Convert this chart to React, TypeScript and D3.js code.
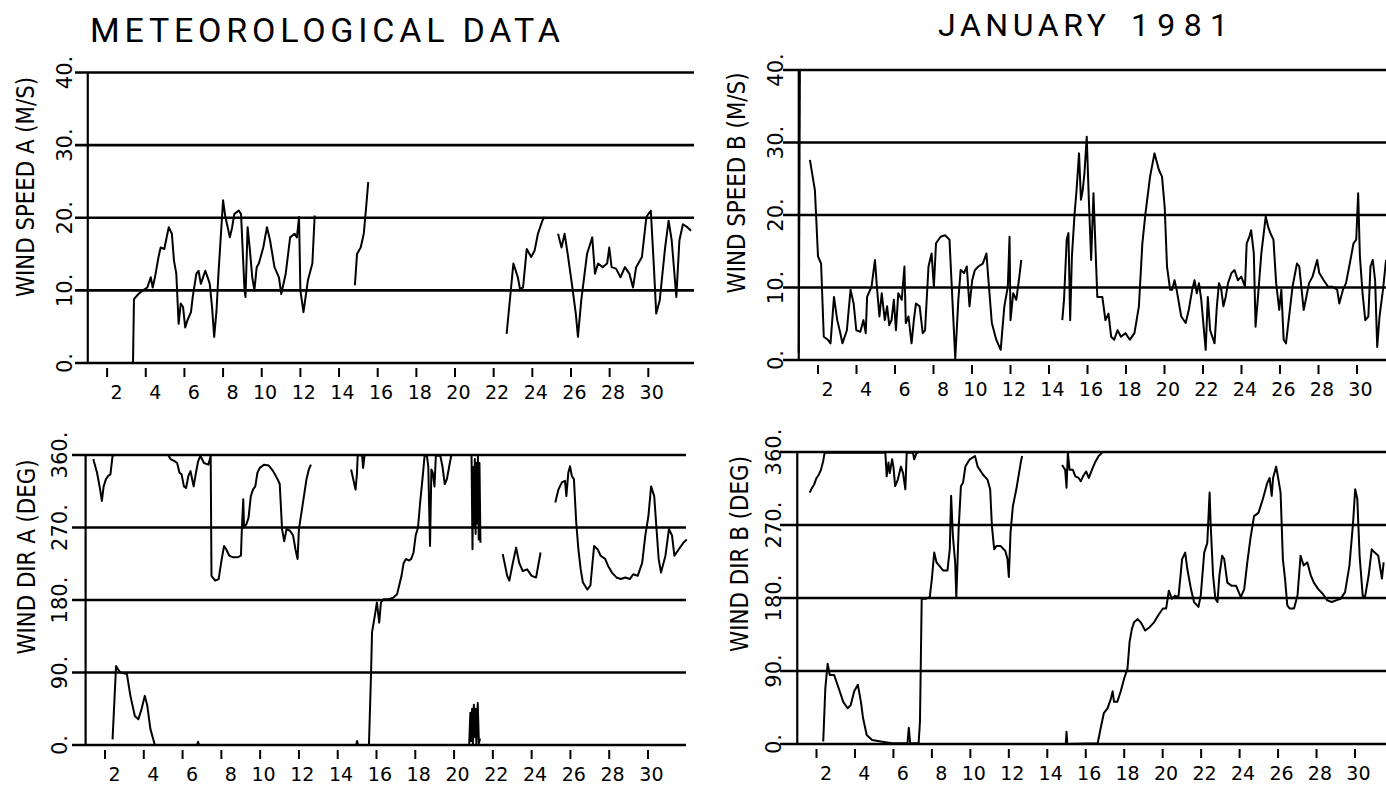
import React from 'react';
import * as d3 from 'd3';

type Pt = [number, number];

// tick days along the bottom of every panel
const dayTicks = [2, 4, 6, 8, 10, 12, 14, 16, 18, 20, 22, 24, 26, 28, 30];
const speedTicks = [0, 10, 20, 30, 40];
const dirTicks = [0, 90, 180, 270, 360];

// wind speed A (m/s), [day, value], one array per drawn stretch
const speedA: Pt[][] = [
  [[1.03, 0], [3.34, 0], [3.39, 8.8], [3.62, 9.5], [3.85, 10.0], [4.08, 10.4], [4.26, 11.8], [4.36, 10.4], [4.49, 12.0], [4.66, 14.6], [4.77, 15.9], [4.96, 15.7], [5.05, 16.9], [5.19, 18.7], [5.35, 17.8], [5.46, 14.1], [5.58, 12.3], [5.70, 5.4], [5.81, 8.2], [5.93, 7.7], [6.04, 4.9], [6.16, 5.9], [6.34, 7.0], [6.43, 9.1], [6.62, 12.3], [6.73, 12.7], [6.85, 10.9], [7.08, 12.7], [7.20, 11.8], [7.31, 10.9], [7.43, 7.7], [7.54, 3.6], [7.66, 7.2], [7.77, 12.7], [8.00, 22.4], [8.12, 20.1], [8.24, 18.7], [8.35, 17.3], [8.47, 18.7], [8.58, 20.5], [8.81, 21.0], [8.93, 20.5], [9.11, 10.0], [9.16, 9.1], [9.27, 18.7], [9.39, 15.5], [9.51, 11.8], [9.62, 10.0], [9.74, 13.2], [9.85, 13.7], [10.08, 15.9], [10.27, 18.7], [10.43, 16.9], [10.66, 13.2], [10.89, 11.8], [11.01, 9.5], [11.24, 12.3], [11.47, 17.3], [11.70, 17.8], [11.82, 17.3], [11.93, 20.1], [12.00, 10.0], [12.16, 7.0], [12.39, 11.4], [12.62, 13.7], [12.74, 20.3]],
  [[14.82, 10.7], [14.93, 15.0], [15.12, 15.9], [15.28, 17.8], [15.40, 21.4], [15.51, 24.9]],
  [[22.67, 4.0], [23.02, 13.7], [23.25, 11.8], [23.36, 10.2], [23.52, 10.4], [23.71, 15.7], [23.94, 14.6], [24.12, 15.5], [24.29, 17.8], [24.52, 19.6], [24.63, 20.1]],
  [[25.33, 17.8], [25.51, 15.9], [25.67, 17.8], [25.83, 15.0], [26.02, 11.4], [26.25, 6.8], [26.36, 3.6], [26.53, 8.6], [26.83, 15.0], [27.10, 17.3], [27.24, 12.3], [27.40, 13.7], [27.64, 13.2], [27.87, 13.7], [27.98, 15.9], [28.10, 13.2], [28.33, 13.0], [28.56, 11.8], [28.79, 13.2], [29.02, 12.3], [29.21, 10.4], [29.37, 13.2], [29.67, 14.6], [29.90, 20.1], [30.13, 21.0], [30.29, 13.2], [30.41, 6.8], [30.59, 8.6], [30.87, 15.9], [31.05, 19.6], [31.21, 16.9], [31.45, 9.1], [31.61, 16.9], [31.79, 19.1], [32.02, 18.7], [32.21, 18.2]],
];

// wind speed B (m/s)
const speedB: Pt[][] = [
  [[1.0, 1.0], [1.06, 40]],
  [[1.58, 27.6], [1.84, 23.4], [2.00, 14.3], [2.16, 13.3], [2.30, 3.2], [2.51, 2.8], [2.65, 2.3], [2.83, 8.7], [3.00, 5.5], [3.16, 3.7], [3.27, 2.3], [3.50, 4.1], [3.69, 9.7], [3.85, 7.8], [3.99, 4.1], [4.20, 3.9], [4.36, 5.5], [4.48, 3.7], [4.55, 8.7], [4.78, 10.1], [4.96, 13.8], [5.06, 10.1], [5.19, 6.0], [5.31, 9.2], [5.47, 5.5], [5.59, 7.4], [5.70, 4.8], [5.82, 5.5], [5.94, 8.3], [6.05, 4.1], [6.17, 9.2], [6.35, 8.3], [6.49, 12.9], [6.56, 5.1], [6.70, 6.0], [6.86, 2.3], [6.98, 5.5], [7.09, 7.8], [7.28, 7.4], [7.44, 3.7], [7.56, 4.1], [7.74, 12.9], [7.90, 14.7], [8.02, 10.1], [8.13, 16.1], [8.37, 17.0], [8.60, 17.2], [8.83, 16.6], [8.94, 10.6], [9.13, 0.2], [9.29, 8.3], [9.41, 12.4], [9.59, 12.0], [9.73, 12.9], [9.87, 7.4], [10.01, 11.0], [10.15, 12.4], [10.33, 12.9], [10.56, 13.3], [10.75, 14.7], [10.84, 11.5], [11.03, 5.1], [11.26, 2.8], [11.49, 1.4], [11.68, 7.4], [11.86, 10.1], [11.95, 17.0], [12.00, 5.5], [12.14, 9.2], [12.30, 8.3], [12.46, 11.5], [12.56, 13.8]],
  [[14.69, 5.5], [14.78, 8.3], [14.92, 16.6], [15.01, 17.5], [15.10, 5.5], [15.19, 14.3], [15.33, 20.2], [15.43, 23.4], [15.56, 28.5], [15.66, 22.1], [15.75, 23.4], [15.84, 25.7], [15.96, 30.8], [16.07, 22.1], [16.19, 13.8], [16.31, 23.0], [16.40, 16.6], [16.51, 8.7], [16.63, 8.7], [16.77, 8.7], [16.93, 5.5], [17.09, 6.4], [17.23, 3.2], [17.39, 2.8], [17.56, 4.1], [17.74, 3.2], [17.97, 3.7], [18.20, 2.8], [18.44, 3.7], [18.67, 7.4], [18.85, 16.1], [19.01, 20.2], [19.25, 25.3], [19.48, 28.5], [19.71, 26.2], [19.87, 25.3], [20.01, 21.1], [20.13, 12.9], [20.29, 9.7], [20.40, 9.7], [20.52, 11.0], [20.63, 9.7], [20.87, 6.0], [21.10, 5.1], [21.26, 6.9], [21.44, 9.7], [21.56, 11.0], [21.68, 9.2], [21.79, 10.6], [21.91, 8.3], [22.14, 1.4], [22.25, 8.7], [22.37, 4.1], [22.60, 2.3], [22.72, 7.4], [22.83, 10.6], [22.95, 9.7], [23.06, 7.4], [23.18, 8.7], [23.30, 10.6], [23.48, 12.0], [23.64, 12.4], [23.81, 11.0], [23.99, 11.5], [24.18, 10.1], [24.27, 16.1], [24.41, 17.0], [24.50, 17.9], [24.64, 14.7], [24.73, 4.6], [24.87, 9.2], [25.03, 14.7], [25.26, 19.8], [25.38, 18.4], [25.50, 17.5], [25.66, 16.6], [25.80, 10.6], [25.96, 6.9], [26.07, 9.7], [26.19, 2.8], [26.31, 2.3], [26.49, 6.4], [26.65, 10.1], [26.88, 13.3], [27.00, 12.9], [27.23, 6.9], [27.34, 8.3], [27.51, 10.6], [27.69, 11.5], [27.93, 13.8], [28.04, 12.0], [28.27, 11.0], [28.50, 10.1], [28.74, 10.1], [28.97, 9.7], [29.08, 7.8], [29.27, 9.7], [29.43, 10.6], [29.66, 13.8], [29.82, 16.1], [29.96, 16.6], [30.06, 23.0], [30.15, 14.3], [30.29, 9.2], [30.43, 5.5], [30.59, 6.0], [30.70, 12.9], [30.82, 13.8], [30.94, 11.0], [31.05, 1.8], [31.17, 6.0], [31.35, 9.7], [31.51, 13.8]],
];

// wind direction A (deg)
const dirA: Pt[][] = [
  [[1.40, 355], [1.43, 352], [1.59, 338], [1.75, 317], [1.84, 303], [1.93, 321], [2.05, 330], [2.16, 334], [2.28, 336], [2.39, 359], [2.51, 360], [5.26, 360], [5.38, 355], [5.61, 352], [5.72, 350], [5.84, 338], [5.95, 336], [6.07, 321], [6.18, 319], [6.30, 334], [6.41, 340], [6.57, 321], [6.69, 338], [6.80, 352], [6.92, 359], [7.10, 350], [7.33, 348], [7.45, 359], [7.49, 210], [7.68, 204], [7.86, 206], [8.02, 231], [8.14, 247], [8.25, 243], [8.41, 235], [8.60, 233], [8.83, 233], [9.01, 235], [9.06, 270], [9.13, 305], [9.17, 270], [9.29, 274], [9.40, 282], [9.52, 309], [9.63, 317], [9.75, 321], [9.86, 338], [9.98, 344], [10.21, 348], [10.44, 347], [10.67, 340], [10.90, 330], [11.01, 324], [11.13, 268], [11.24, 253], [11.36, 268], [11.54, 266], [11.70, 260], [11.82, 243], [11.93, 231], [12.00, 268], [12.16, 293], [12.39, 330], [12.51, 342], [12.62, 348]],
  [[14.69, 342], [14.92, 317], [14.99, 336], [15.03, 359], [15.15, 360], [15.26, 359], [15.31, 344], [15.38, 359]],
  [[2.39, 7], [2.57, 98], [2.67, 94], [2.80, 90], [3.13, 88], [3.31, 61], [3.54, 36], [3.72, 32], [3.89, 45], [4.05, 61], [4.18, 49], [4.34, 20], [4.57, 0], [6.75, 0], [6.80, 4], [6.85, 0], [14.95, 0], [15.00, 5], [15.05, 0], [15.61, 0], [15.72, 90], [15.77, 140], [15.91, 160], [16.02, 177], [16.14, 152], [16.23, 177], [16.37, 181], [16.64, 181], [16.87, 183], [17.06, 187], [17.17, 198], [17.29, 210], [17.40, 226], [17.52, 231], [17.68, 229], [17.79, 231], [17.91, 239], [18.02, 260], [18.14, 270], [18.25, 301], [18.37, 330], [18.48, 359], [18.60, 359], [18.67, 346], [18.76, 247], [18.83, 342], [18.90, 338], [18.99, 321], [19.06, 359], [19.29, 359], [19.40, 346], [19.52, 324], [19.63, 330], [19.75, 346], [19.86, 360], [20.90, 360], [20.95, 243], [20.99, 345], [21.03, 270], [21.07, 355], [21.11, 262], [21.15, 350], [21.19, 275], [21.23, 358], [21.27, 255], [21.31, 350], [21.36, 251]],
  [[20.78, 0], [20.84, 40], [20.88, 5], [20.93, 45], [20.97, 0], [21.02, 50], [21.06, 10], [21.11, 45], [21.15, 0], [21.22, 52], [21.28, 2], [21.34, 8]],
  [[22.51, 237], [22.74, 210], [22.85, 204], [23.03, 226], [23.20, 245], [23.36, 226], [23.54, 216], [23.77, 218], [24.00, 210], [24.23, 208], [24.46, 239]],
  [[25.22, 301], [25.38, 317], [25.56, 326], [25.72, 328], [25.79, 309], [25.89, 338], [25.98, 346], [26.07, 334], [26.18, 330], [26.30, 276], [26.41, 243], [26.53, 218], [26.64, 202], [26.87, 193], [27.03, 198], [27.22, 247], [27.40, 243], [27.56, 235], [27.79, 231], [27.95, 222], [28.14, 214], [28.37, 208], [28.60, 206], [28.83, 208], [29.06, 206], [29.24, 212], [29.47, 210], [29.70, 226], [29.86, 260], [30.02, 284], [30.16, 321], [30.32, 309], [30.44, 268], [30.55, 231], [30.67, 214], [30.90, 235], [31.08, 268], [31.24, 260], [31.36, 235], [31.59, 243], [31.82, 251], [32.00, 255]],
];

// wind direction B (deg)
const dirB: Pt[][] = [
  [[1.65, 310], [1.77, 316], [1.88, 320], [2.00, 328], [2.12, 332], [2.23, 338], [2.35, 349], [2.42, 359], [5.58, 359], [5.65, 330], [5.74, 347], [5.81, 334], [5.93, 351], [6.00, 342], [6.09, 318], [6.23, 326], [6.39, 342], [6.50, 334], [6.62, 314], [6.69, 359], [7.02, 359], [7.08, 351], [7.20, 359], [7.30, 359]],
  [[2.35, 3], [2.46, 69], [2.58, 99], [2.69, 85], [2.92, 85], [3.15, 69], [3.39, 52], [3.62, 44], [3.78, 48], [3.96, 65], [4.15, 73], [4.31, 52], [4.42, 32], [4.61, 11], [4.89, 5], [5.35, 3], [5.93, 1], [6.73, 1], [6.80, 20], [6.87, 1], [7.31, 1], [7.38, 28], [7.47, 179], [7.66, 179], [7.89, 181], [8.00, 204], [8.12, 236], [8.24, 224], [8.58, 214], [8.81, 214], [8.93, 240], [9.00, 306], [9.09, 257], [9.21, 224], [9.27, 181], [9.39, 265], [9.51, 318], [9.62, 322], [9.74, 342], [9.97, 351], [10.24, 355], [10.38, 342], [10.66, 332], [10.89, 326], [11.03, 314], [11.12, 269], [11.24, 240], [11.35, 244], [11.58, 244], [11.82, 238], [11.93, 228], [12.00, 206], [12.09, 261], [12.21, 293], [12.39, 314], [12.62, 347], [12.69, 355]],
  [[14.77, 344], [14.93, 338], [15.00, 316], [15.07, 359], [15.16, 338], [15.33, 338], [15.46, 330], [15.63, 328], [15.74, 324], [15.86, 330], [16.02, 336], [16.16, 328], [16.32, 338], [16.48, 347], [16.67, 355], [16.85, 359]],
  [[14.80, 0], [14.96, 0], [15.00, 15], [15.04, 0], [16.62, 1], [16.78, 20], [16.94, 38], [17.13, 44], [17.31, 56], [17.40, 65], [17.47, 52], [17.64, 52], [17.82, 65], [18.00, 81], [18.17, 93], [18.28, 126], [18.40, 142], [18.51, 150], [18.70, 154], [18.86, 150], [19.09, 140], [19.32, 144], [19.55, 150], [19.78, 159], [20.01, 167], [20.18, 167], [20.32, 189], [20.48, 179], [20.64, 183], [20.82, 181], [21.01, 228], [21.17, 236], [21.28, 216], [21.47, 191], [21.63, 175], [21.86, 169], [21.98, 183], [22.16, 236], [22.32, 248], [22.44, 310], [22.49, 273], [22.62, 208], [22.74, 179], [22.85, 175], [22.95, 208], [23.09, 232], [23.20, 228], [23.36, 199], [23.59, 195], [23.82, 195], [24.06, 181], [24.24, 191], [24.40, 224], [24.56, 253], [24.75, 281], [24.98, 285], [25.21, 302], [25.44, 322], [25.56, 328], [25.67, 306], [25.74, 328], [25.90, 342], [26.02, 326], [26.13, 310], [26.25, 228], [26.36, 204], [26.48, 171], [26.60, 167], [26.83, 167], [27.01, 183], [27.17, 232], [27.33, 220], [27.52, 224], [27.70, 208], [27.86, 199], [28.09, 191], [28.33, 185], [28.56, 177], [28.79, 175], [29.02, 177], [29.25, 179], [29.48, 187], [29.71, 220], [29.90, 273], [30.01, 314], [30.12, 302], [30.24, 232], [30.40, 183], [30.52, 181], [30.71, 208], [30.87, 240], [31.03, 236], [31.21, 232], [31.40, 204], [31.49, 224]],
];

const FONT = "'DejaVu Sans', 'Liberation Sans', sans-serif";
const TITLE_FONT = "Roboto, 'Liberation Sans', sans-serif";

interface PanelProps {
  segments: Pt[][];
  yTicks: number[];
  tick2: number;
  tick30: number;
  y0: number;
  yTop: number;
  gridStart: number;
  gridEnd: number;
  labelX: number;
  titleX: number;
  titleY: number;
  titleLen: number;
  title: string;
}

function Panel(p: PanelProps) {
  const x = d3.scaleLinear().domain([2, 30]).range([p.tick2, p.tick30]);
  const yMax = p.yTicks[p.yTicks.length - 1];
  const y = d3.scaleLinear().domain([0, yMax]).range([p.y0, p.yTop]);
  const line = d3.line<Pt>().x(d => x(d[0])).y(d => y(d[1]));

  return (
    <g>
      {p.yTicks.map(v => (
        <line key={'g' + v} x1={p.gridStart} x2={p.gridEnd} y1={y(v)} y2={y(v)} stroke="#000" strokeWidth={2.6} />
      ))}
      <line x1={x(1)} x2={x(1)} y1={y(yMax)} y2={y(0)} stroke="#000" strokeWidth={2.2} />
      {dayTicks.map(d => (
        <line key={'t' + d} x1={x(d)} x2={x(d)} y1={p.y0 + 5} y2={p.y0 + 14} stroke="#000" strokeWidth={2} />
      ))}
      {dayTicks.map(d => (
        <text key={'l' + d} x={x(d) + 15.5} y={p.y0 + 36} textAnchor="end" fontFamily={FONT} fontSize={19} fill="#000">
          {d}
        </text>
      ))}
      {p.yTicks.map(v => (
        <text key={'y' + v} transform={`translate(${p.labelX},${y(v)}) rotate(-90)`} textAnchor="middle"
          fontFamily={FONT} fontSize={21} fill="#000">
          {v + '.'}
        </text>
      ))}
      <text transform={`translate(${p.titleX},${p.titleY}) rotate(-90)`} textAnchor="middle" fontFamily={FONT}
        fontSize={24} fill="#000" textLength={p.titleLen} lengthAdjust="spacingAndGlyphs">
        {p.title}
      </text>
      {p.segments.map((s, i) => (
        <path key={'s' + i} d={line(s) || ''} fill="none" stroke="#000" strokeWidth={2} strokeLinejoin="round" />
      ))}
    </g>
  );
}

export default function App() {
  return (
    <svg width={1386} height={787} style={{ position: 'absolute', left: 0, top: 0, background: '#fff' }}>
      <rect width={1386} height={787} fill="#fff" />
      <text x={90} y={42} fontFamily={TITLE_FONT} fontSize={34} textLength={470}
        lengthAdjust="spacing" fill="#000">METEOROLOGICAL DATA</text>
      <text x={938} y={36} fontFamily={TITLE_FONT} fontSize={32} textLength={168}
        lengthAdjust="spacing" fill="#000">JANUARY</text>
      <text x={1131} y={36} fontFamily={TITLE_FONT} fontSize={32} textLength={97}
        lengthAdjust="spacing" fill="#000">1981</text>

      <Panel segments={speedA} yTicks={speedTicks} tick2={107.1} tick30={648.3} y0={363} yTop={72.5}
        gridStart={75} gridEnd={694} labelX={72} titleX={34} titleY={187} titleLen={220} title="WIND SPEED A (M/S)" />
      <Panel segments={speedB} yTicks={speedTicks} tick2={818} tick30={1357} y0={360} yTop={70}
        gridStart={783} gridEnd={1386} labelX={783} titleX={745} titleY={183} titleLen={221} title="WIND SPEED B (M/S)" />
      <Panel segments={dirA} yTicks={dirTicks} tick2={105} tick30={648} y0={745} yTop={455}
        gridStart={72} gridEnd={686} labelX={67} titleX={35} titleY={557} titleLen={195} title="WIND DIR A (DEG)" />
      <Panel segments={dirB} yTicks={dirTicks} tick2={816.5} tick30={1355} y0={744} yTop={452}
        gridStart={780} gridEnd={1386} labelX={781} titleX={748} titleY={554} titleLen={196} title="WIND DIR B (DEG)" />
    </svg>
  );
}
